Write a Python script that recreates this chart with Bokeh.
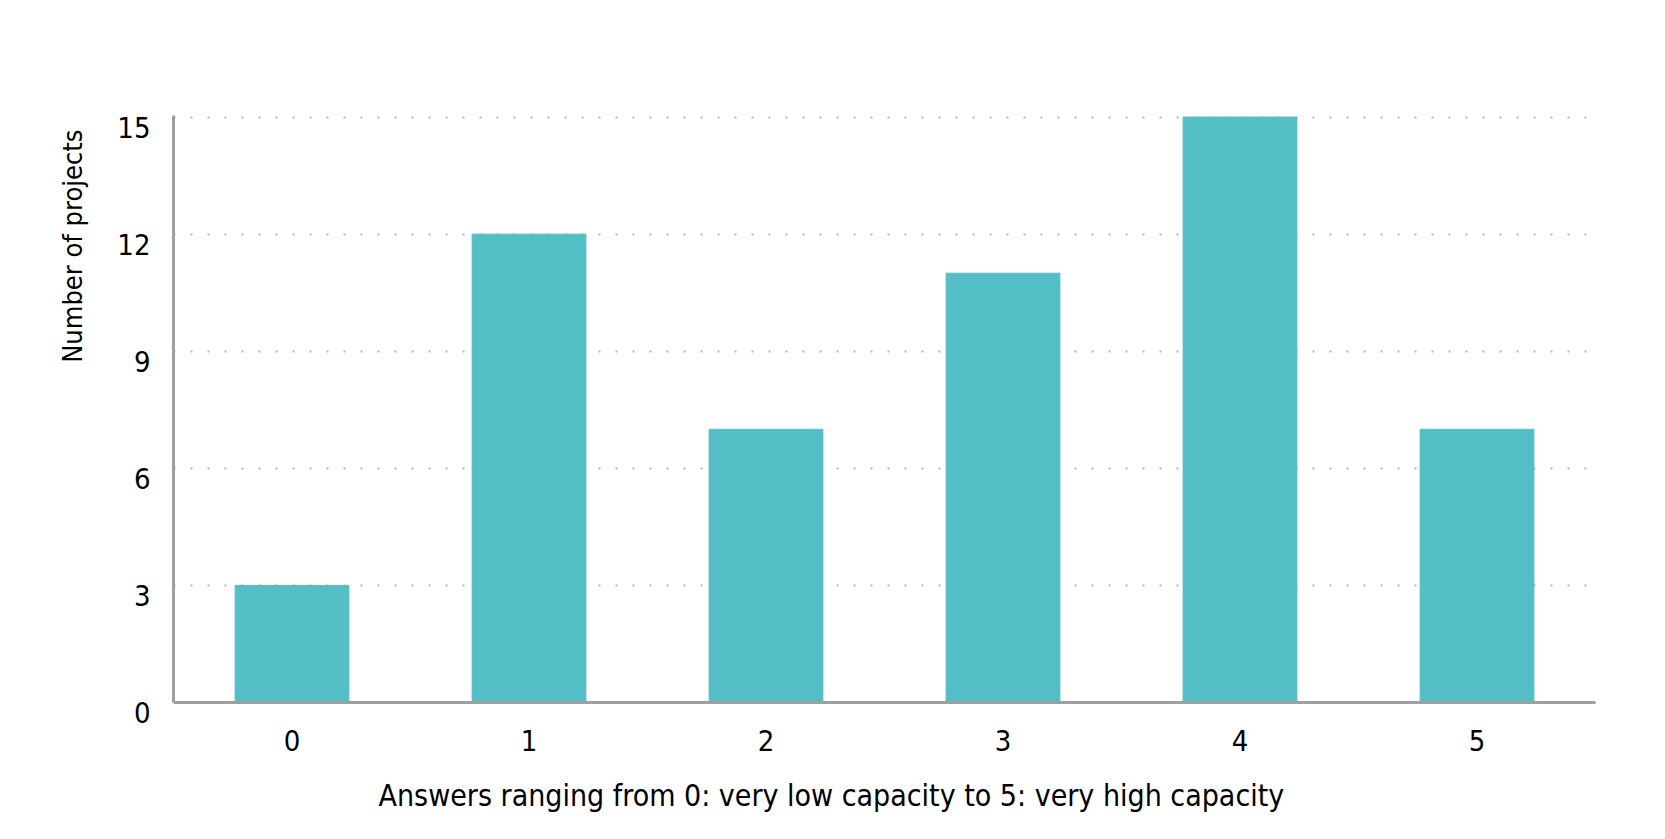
from bokeh.plotting import figure
from bokeh.models import Range1d, FixedTicker, Title
from bokeh.embed import file_html
from bokeh.resources import INLINE

categorias = [0, 1, 2, 3, 4, 5]
proyectos = [3, 12, 7, 11, 15, 7]
marcas_y = [0, 3, 6, 9, 12, 15]

fuente = "DejaVu Sans Condensed"
color_barra = "#54bec7"

ancho, alto = 1649, 823
borde_izq, borde_der = 173, 54
borde_sup, borde_inf = 115, 121

p = figure(width=ancho, height=alto, output_backend="svg", toolbar_location=None,
           x_range=Range1d(-0.5, 5.5), y_range=Range1d(0, 15.04),
           min_border_left=borde_izq, min_border_right=borde_der,
           min_border_top=borde_sup, min_border_bottom=borde_inf)
p.outline_line_color = None

p.vbar(x=categorias, top=proyectos, width=0.48, color=color_barra)

p.xgrid.grid_line_color = None
p.ygrid.grid_line_color = "#b4b4b4"
p.ygrid.grid_line_dash = "2 15"
p.ygrid.grid_line_width = 2

p.xaxis.ticker = FixedTicker(ticks=categorias)
p.yaxis.ticker = FixedTicker(ticks=marcas_y)
for eje in (p.xaxis, p.yaxis):
    eje.axis_line_color = "#a0a0a0"
    eje.axis_line_width = 3
    eje.major_tick_line_color = None
    eje.minor_tick_line_color = None
    eje.major_label_text_font = fuente
    eje.major_label_text_font_size = "29px"
    eje.major_label_text_color = "black"
p.xaxis.major_label_standoff = 21
p.yaxis.major_label_standoff = 17
# las cifras del eje y quedan un poco por debajo de su linea
p.yaxis.major_label_overrides = {v: "\n" + str(v) for v in marcas_y}
p.yaxis.major_label_text_line_height = 0.62

# titulos de los ejes
p.add_layout(Title(text="Answers ranging from 0: very low capacity to 5: very high capacity",
                   align="left", offset=205, padding=dict(left=0, right=0, top=17, bottom=0),
                   text_font=fuente, text_font_size="30px", text_font_style="normal",
                   text_color="black"), "below")
p.add_layout(Title(text="Number of projects", align="right", offset=14, standoff=53,
                   text_font=fuente, text_font_size="27px", text_font_style="normal",
                   text_color="black"), "left")

open("out.html", "w").write(file_html(p, INLINE))
